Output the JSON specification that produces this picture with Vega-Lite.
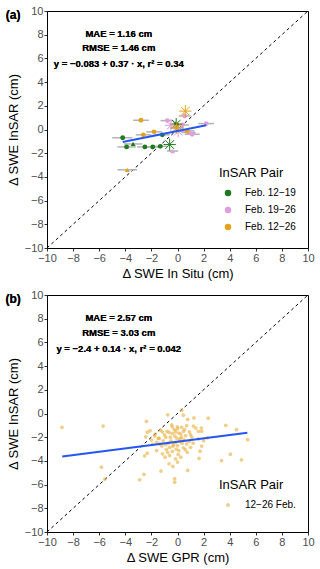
{
  "$schema": "https://vega.github.io/schema/vega-lite/v6.json",
  "background": "white",
  "padding": {"left": 4, "top": 4, "right": 5, "bottom": 5},
  "spacing": 7,
  "config": {
    "font": "Liberation Sans",
    "view": {"stroke": "black", "strokeWidth": 1},
    "axis": {"grid": false, "labelFlush": false, "domainColor": "black", "tickColor": "#333333", "tickSize": 3, "labelColor": "#4d4d4d", "labelFontSize": 11, "labelPadding": 1, "titleFontSize": 13, "titleFontWeight": "normal", "titleColor": "black", "titlePadding": 4, "labelFont": "Liberation Sans", "titleFont": "Liberation Sans"},
    "legend": {"labelFont": "Liberation Sans", "titleFont": "Liberation Sans"}
  },
  "resolve": {"scale": {"x": "independent", "y": "independent", "color": "independent", "shape": "independent", "stroke": "independent"}, "legend": {"color": "independent"}},
  "datasets": {
    "diag": [{"x": -10, "y": -10}, {"x": 10, "y": 10}],
    "apts": [
      {"pair": "Feb. 12−19", "shape": "circle", "x": -4.2, "y": -0.7, "xmin": -5.0, "xmax": -3.45},
      {"pair": "Feb. 12−19", "shape": "circle", "x": -3.9, "y": -1.47, "xmin": -4.6, "xmax": -3.2},
      {"pair": "Feb. 12−19", "shape": "triangle", "x": -3.4, "y": -1.22, "xmin": -4.1, "xmax": -2.7},
      {"pair": "Feb. 12−19", "shape": "circle", "x": -2.5, "y": -1.47, "xmin": -3.1, "xmax": -1.9},
      {"pair": "Feb. 12−19", "shape": "circle", "x": -1.9, "y": -1.48, "xmin": -2.5, "xmax": -1.3},
      {"pair": "Feb. 12−19", "shape": "circle", "x": -1.32, "y": -1.42, "xmin": -1.9, "xmax": -0.75},
      {"pair": "Feb. 12−19", "shape": "circle", "x": -1.16, "y": -0.45, "xmin": -1.75, "xmax": -0.6},
      {"pair": "Feb. 12−19", "shape": "circle", "x": -0.1, "y": 0.45, "xmin": -0.6, "xmax": 0.4},
      {"pair": "Feb. 19−26", "shape": "circle", "x": 2.2, "y": 0.5, "xmin": 1.6, "xmax": 2.8},
      {"pair": "Feb. 19−26", "shape": "circle", "x": 1.12, "y": -0.4, "xmin": 0.55, "xmax": 1.7},
      {"pair": "Feb. 19−26", "shape": "circle", "x": 0.83, "y": -0.25, "xmin": 0.3, "xmax": 1.4},
      {"pair": "Feb. 19−26", "shape": "circle", "x": 0.37, "y": 0.38, "xmin": -0.2, "xmax": 0.9},
      {"pair": "Feb. 19−26", "shape": "circle", "x": 0.55, "y": 1.14, "xmin": 0.1, "xmax": 1.0},
      {"pair": "Feb. 19−26", "shape": "circle", "x": -0.78, "y": 0.75, "xmin": -1.3, "xmax": -0.3},
      {"pair": "Feb. 19−26", "shape": "triangle", "x": -0.38, "y": -1.82, "xmin": -0.8, "xmax": 0.05},
      {"pair": "Feb. 12−26", "shape": "circle", "x": -2.8, "y": 0.78, "xmin": -3.4, "xmax": -2.2},
      {"pair": "Feb. 12−26", "shape": "circle", "x": -2.62, "y": -0.45, "xmin": -3.2, "xmax": -2.0},
      {"pair": "Feb. 12−26", "shape": "circle", "x": -1.8, "y": -0.2, "xmin": -2.4, "xmax": -1.2},
      {"pair": "Feb. 12−26", "shape": "circle", "x": 0.75, "y": -0.12, "xmin": 0.2, "xmax": 1.3},
      {"pair": "Feb. 12−26", "shape": "circle", "x": -0.05, "y": 0.12, "xmin": -0.6, "xmax": 0.5},
      {"pair": "Feb. 12−26", "shape": "triangle", "x": -3.85, "y": -3.4, "xmin": -4.6, "xmax": -3.1}
    ],
    "astars": [
      {"group": "Feb. 12−19", "x": -0.6, "y": -1.27},
      {"group": "Feb. 12−19", "x": -0.1, "y": 0.45},
      {"group": "Feb. 19−26", "x": -0.5, "y": 0.35},
      {"group": "Feb. 19−26", "x": 0.05, "y": -0.15},
      {"group": "Feb. 12−26", "x": 0.6, "y": 1.55},
      {"group": "Feb. 12−26", "x": -0.05, "y": 0.15}
    ],
    "aline": [{"x": -4.2, "y": -1.05}, {"x": 2.2, "y": 0.35}],
    "bline": [{"x": -8.83, "y": -3.62}, {"x": 5.35, "y": -1.63}],
    "bpts": [
      {"pair": "12−26 Feb.", "x": -8.85, "y": -1.17},
      {"pair": "12−26 Feb.", "x": -5.7, "y": -1.06},
      {"pair": "12−26 Feb.", "x": -5.83, "y": -4.53},
      {"pair": "12−26 Feb.", "x": -5.57, "y": -5.53},
      {"pair": "12−26 Feb.", "x": -2.57, "y": -5.14},
      {"pair": "12−26 Feb.", "x": -2.9, "y": -5.6},
      {"pair": "12−26 Feb.", "x": -2.38, "y": -0.66},
      {"pair": "12−26 Feb.", "x": -2.32, "y": -1.58},
      {"pair": "12−26 Feb.", "x": -2.44, "y": -1.97},
      {"pair": "12−26 Feb.", "x": -2.32, "y": -3.35},
      {"pair": "12−26 Feb.", "x": -2.52, "y": -3.57},
      {"pair": "12−26 Feb.", "x": -0.75, "y": -0.11},
      {"pair": "12−26 Feb.", "x": 0.32, "y": 0.28},
      {"pair": "12−26 Feb.", "x": 0.45, "y": -0.14},
      {"pair": "12−26 Feb.", "x": 0.78, "y": -0.5},
      {"pair": "12−26 Feb.", "x": 1.26, "y": -0.37},
      {"pair": "12−26 Feb.", "x": 2.36, "y": -0.4},
      {"pair": "12−26 Feb.", "x": -0.4, "y": -1.12},
      {"pair": "12−26 Feb.", "x": -0.01, "y": -1.12},
      {"pair": "12−26 Feb.", "x": 0.32, "y": -1.17},
      {"pair": "12−26 Feb.", "x": 0.7, "y": -1.03},
      {"pair": "12−26 Feb.", "x": 1.22, "y": -1.06},
      {"pair": "12−26 Feb.", "x": 1.4, "y": -1.23},
      {"pair": "12−26 Feb.", "x": 1.83, "y": -1.23},
      {"pair": "12−26 Feb.", "x": 3.7, "y": -1.0},
      {"pair": "12−26 Feb.", "x": 4.52, "y": -1.37},
      {"pair": "12−26 Feb.", "x": -0.65, "y": -1.6},
      {"pair": "12−26 Feb.", "x": -0.4, "y": -1.68},
      {"pair": "12−26 Feb.", "x": -0.15, "y": -1.56},
      {"pair": "12−26 Feb.", "x": 0.25, "y": -1.73},
      {"pair": "12−26 Feb.", "x": 0.45, "y": -1.5},
      {"pair": "12−26 Feb.", "x": -1.7, "y": -1.73},
      {"pair": "12−26 Feb.", "x": 0.62, "y": -1.87},
      {"pair": "12−26 Feb.", "x": 1.0, "y": -1.79},
      {"pair": "12−26 Feb.", "x": 1.6, "y": -1.5},
      {"pair": "12−26 Feb.", "x": 1.85, "y": -1.5},
      {"pair": "12−26 Feb.", "x": -0.9, "y": -2.01},
      {"pair": "12−26 Feb.", "x": -1.1, "y": -2.3},
      {"pair": "12−26 Feb.", "x": -2.0, "y": -2.24},
      {"pair": "12−26 Feb.", "x": -1.6, "y": -2.43},
      {"pair": "12−26 Feb.", "x": -1.35, "y": -2.57},
      {"pair": "12−26 Feb.", "x": -0.9, "y": -2.63},
      {"pair": "12−26 Feb.", "x": -0.7, "y": -2.51},
      {"pair": "12−26 Feb.", "x": -0.5, "y": -2.3},
      {"pair": "12−26 Feb.", "x": -0.3, "y": -2.63},
      {"pair": "12−26 Feb.", "x": -0.15, "y": -2.43},
      {"pair": "12−26 Feb.", "x": 0.0, "y": -2.71},
      {"pair": "12−26 Feb.", "x": 0.2, "y": -2.15},
      {"pair": "12−26 Feb.", "x": 0.35, "y": -2.51},
      {"pair": "12−26 Feb.", "x": 0.5, "y": -2.23},
      {"pair": "12−26 Feb.", "x": 0.7, "y": -2.57},
      {"pair": "12−26 Feb.", "x": 0.9, "y": -2.35},
      {"pair": "12−26 Feb.", "x": 1.2, "y": -2.51},
      {"pair": "12−26 Feb.", "x": 1.6, "y": -2.15},
      {"pair": "12−26 Feb.", "x": 2.0, "y": -2.29},
      {"pair": "12−26 Feb.", "x": 5.37, "y": -2.2},
      {"pair": "12−26 Feb.", "x": 1.85, "y": -2.75},
      {"pair": "12−26 Feb.", "x": -1.6, "y": -3.13},
      {"pair": "12−26 Feb.", "x": -1.15, "y": -3.4},
      {"pair": "12−26 Feb.", "x": -0.95, "y": -3.69},
      {"pair": "12−26 Feb.", "x": -0.75, "y": -3.3},
      {"pair": "12−26 Feb.", "x": -0.6, "y": -3.55},
      {"pair": "12−26 Feb.", "x": -0.4, "y": -3.2},
      {"pair": "12−26 Feb.", "x": -0.15, "y": -3.83},
      {"pair": "12−26 Feb.", "x": 0.1, "y": -3.13},
      {"pair": "12−26 Feb.", "x": 0.25, "y": -3.69},
      {"pair": "12−26 Feb.", "x": 0.75, "y": -3.27},
      {"pair": "12−26 Feb.", "x": 1.73, "y": -3.18},
      {"pair": "12−26 Feb.", "x": 1.65, "y": -3.79},
      {"pair": "12−26 Feb.", "x": 3.37, "y": -3.97},
      {"pair": "12−26 Feb.", "x": 4.05, "y": -3.43},
      {"pair": "12−26 Feb.", "x": 4.9, "y": -3.91},
      {"pair": "12−26 Feb.", "x": -1.27, "y": -4.86},
      {"pair": "12−26 Feb.", "x": -0.65, "y": -4.25},
      {"pair": "12−26 Feb.", "x": -0.35, "y": -4.47},
      {"pair": "12−26 Feb.", "x": 0.0, "y": -4.1},
      {"pair": "12−26 Feb.", "x": 0.78, "y": -4.8},
      {"pair": "12−26 Feb.", "x": -0.22, "y": -5.5},
      {"pair": "12−26 Feb.", "x": -0.22, "y": -5.8},
      {"pair": "12−26 Feb.", "x": -1.3, "y": -1.4},
      {"pair": "12−26 Feb.", "x": -1.0, "y": -1.8},
      {"pair": "12−26 Feb.", "x": -0.8, "y": -1.5},
      {"pair": "12−26 Feb.", "x": -0.55, "y": -2.0},
      {"pair": "12−26 Feb.", "x": -0.2, "y": -1.9},
      {"pair": "12−26 Feb.", "x": 0.1, "y": -1.65},
      {"pair": "12−26 Feb.", "x": 0.3, "y": -2.0},
      {"pair": "12−26 Feb.", "x": 0.15, "y": -2.35},
      {"pair": "12−26 Feb.", "x": -0.35, "y": -2.75},
      {"pair": "12−26 Feb.", "x": -0.6, "y": -2.85},
      {"pair": "12−26 Feb.", "x": -0.85, "y": -3.05},
      {"pair": "12−26 Feb.", "x": 0.45, "y": -2.9},
      {"pair": "12−26 Feb.", "x": 0.6, "y": -3.05},
      {"pair": "12−26 Feb.", "x": 1.0, "y": -2.85},
      {"pair": "12−26 Feb.", "x": -1.4, "y": -2.1},
      {"pair": "12−26 Feb.", "x": -1.9, "y": -2.6},
      {"pair": "12−26 Feb.", "x": 0.0, "y": -1.3},
      {"pair": "12−26 Feb.", "x": -0.25, "y": -1.35},
      {"pair": "12−26 Feb.", "x": 0.9, "y": -1.55},
      {"pair": "12−26 Feb.", "x": 2.3, "y": -2.05},
      {"pair": "12−26 Feb.", "x": 0.05, "y": -3.45},
      {"pair": "12−26 Feb.", "x": -0.05, "y": -2.1},
      {"pair": "12−26 Feb.", "x": -1.75, "y": -1.9},
      {"pair": "12−26 Feb.", "x": -2.1, "y": -1.45},
      {"pair": "12−26 Feb.", "x": -0.45, "y": -0.95},
      {"pair": "12−26 Feb.", "x": 0.55, "y": -1.35},
      {"pair": "12−26 Feb.", "x": 1.1, "y": -2.0},
      {"pair": "12−26 Feb.", "x": -1.2, "y": -2.75},
      {"pair": "12−26 Feb.", "x": -0.1, "y": -3.0},
      {"pair": "12−26 Feb.", "x": -1.47, "y": -2.1},
      {"pair": "12−26 Feb.", "x": -1.16, "y": -1.55}
    ]
  },
  "vconcat": [
    {
      "width": 261,
      "height": 237,
      "encoding": {
        "x": {"field": "x", "type": "quantitative", "scale": {"domain": [-10, 10], "nice": false}, "axis": {"values": [-10, -8, -6, -4, -2, 0, 2, 4, 6, 8, 10], "title": "Δ SWE In Situ (cm)"}},
        "y": {"field": "y", "type": "quantitative", "scale": {"domain": [-10, 10], "nice": false}, "axis": {"values": [-10, -8, -6, -4, -2, 0, 2, 4, 6, 8, 10], "title": "Δ SWE InSAR (cm)"}}
      },
      "layer": [
        {"data": {"name": "diag"}, "mark": {"type": "line", "color": "black", "strokeWidth": 1, "strokeDash": [3, 3]}},
        {"data": {"name": "apts"}, "mark": {"type": "rule", "color": "#b3b3b3", "strokeWidth": 1.5}, "encoding": {"x": {"field": "xmin", "type": "quantitative"}, "x2": {"field": "xmax"}}},
        {"data": {"name": "apts"}, "mark": {"type": "point", "filled": true, "size": 24, "opacity": 1}, "encoding": {
          "color": {"field": "pair", "type": "nominal", "scale": {"domain": ["Feb. 12−19", "Feb. 19−26", "Feb. 12−26"], "range": ["#1f7a1f", "#df9ede", "#e3a31a"]}, "legend": {"orient": "none", "legendX": 172, "legendY": 156, "title": "InSAR Pair", "titleFontSize": 13, "titleFontWeight": "normal", "titleColor": "black", "titlePadding": 8, "labelFontSize": 10, "labelColor": "black", "symbolType": "circle", "symbolSize": 25, "symbolOffset": 4, "labelOffset": 12, "rowPadding": 5}},
          "shape": {"field": "shape", "type": "nominal", "scale": {"domain": ["circle", "triangle"], "range": ["circle", "triangle-up"]}, "legend": null}}},
        {"data": {"name": "astars"}, "mark": {"type": "point", "filled": false, "strokeWidth": 1, "size": 150, "opacity": 1, "shape": "M-1,0L1,0M0,-1L0,1M-0.71,-0.71L0.71,0.71M-0.71,0.71L0.71,-0.71"}, "encoding": {"stroke": {"field": "group", "type": "nominal", "scale": {"domain": ["Feb. 12−19", "Feb. 19−26", "Feb. 12−26"], "range": ["#1f7a1f", "#df9ede", "#e3a31a"]}, "legend": null}}},
        {"data": {"name": "aline"}, "mark": {"type": "line", "color": "#2457f0", "strokeWidth": 2}},
        {"data": {"name": "diag"}, "mark": {"type": "text", "fontWeight": "bold", "fontSize": 9.5, "font": "Liberation Sans"}, "encoding": {"x": {"datum": -4.5}, "y": {"datum": 8.1}, "text": {"value": "MAE = 1.16 cm"}}},
        {"data": {"name": "diag"}, "mark": {"type": "text", "fontWeight": "bold", "fontSize": 9.5, "font": "Liberation Sans"}, "encoding": {"x": {"datum": -4.5}, "y": {"datum": 6.85}, "text": {"value": "RMSE = 1.46 cm"}}},
        {"data": {"name": "diag"}, "mark": {"type": "text", "fontWeight": "bold", "fontSize": 9.5, "font": "Liberation Sans"}, "encoding": {"x": {"datum": -4.5}, "y": {"datum": 5.5}, "text": {"value": "y = −0.083 + 0.37 · x,  r² = 0.34"}}},
        {"data": {"name": "diag"}, "mark": {"type": "text", "fontWeight": "bold", "fontSize": 12, "font": "Liberation Sans"}, "encoding": {"x": {"datum": -12.6}, "y": {"datum": 9.7}, "text": {"value": "(a)"}}}
      ]
    },
    {
      "width": 261,
      "height": 237,
      "encoding": {
        "x": {"field": "x", "type": "quantitative", "scale": {"domain": [-10, 10], "nice": false}, "axis": {"values": [-10, -8, -6, -4, -2, 0, 2, 4, 6, 8, 10], "title": "Δ SWE GPR (cm)"}},
        "y": {"field": "y", "type": "quantitative", "scale": {"domain": [-10, 10], "nice": false}, "axis": {"values": [-10, -8, -6, -4, -2, 0, 2, 4, 6, 8, 10], "title": "Δ SWE InSAR (cm)"}}
      },
      "layer": [
        {"data": {"name": "diag"}, "mark": {"type": "line", "color": "black", "strokeWidth": 1, "strokeDash": [3, 3]}},
        {"data": {"name": "bpts"}, "mark": {"type": "point", "filled": true, "size": 14, "opacity": 0.55}, "encoding": {
          "color": {"field": "pair", "type": "nominal", "scale": {"domain": ["12−26 Feb."], "range": ["#e6a829"]}, "legend": {"orient": "none", "legendX": 172, "legendY": 184, "title": "InSAR Pair", "titleFontSize": 13, "titleFontWeight": "normal", "titleColor": "black", "titlePadding": 8, "labelFontSize": 10, "labelColor": "black", "symbolType": "circle", "symbolSize": 16, "symbolOffset": 4, "labelOffset": 12, "symbolOpacity": 0.55}}}},
        {"data": {"name": "bline"}, "mark": {"type": "line", "color": "#2457f0", "strokeWidth": 2}},
        {"data": {"name": "diag"}, "mark": {"type": "text", "fontWeight": "bold", "fontSize": 9.5, "font": "Liberation Sans"}, "encoding": {"x": {"datum": -4.5}, "y": {"datum": 8.1}, "text": {"value": "MAE = 2.57 cm"}}},
        {"data": {"name": "diag"}, "mark": {"type": "text", "fontWeight": "bold", "fontSize": 9.5, "font": "Liberation Sans"}, "encoding": {"x": {"datum": -4.5}, "y": {"datum": 6.83}, "text": {"value": "RMSE = 3.03 cm"}}},
        {"data": {"name": "diag"}, "mark": {"type": "text", "fontWeight": "bold", "fontSize": 9.5, "font": "Liberation Sans"}, "encoding": {"x": {"datum": -4.5}, "y": {"datum": 5.45}, "text": {"value": "y = −2.4 + 0.14 · x,  r² = 0.042"}}},
        {"data": {"name": "diag"}, "mark": {"type": "text", "fontWeight": "bold", "fontSize": 12, "font": "Liberation Sans"}, "encoding": {"x": {"datum": -12.6}, "y": {"datum": 9.7}, "text": {"value": "(b)"}}}
      ]
    }
  ]
}
